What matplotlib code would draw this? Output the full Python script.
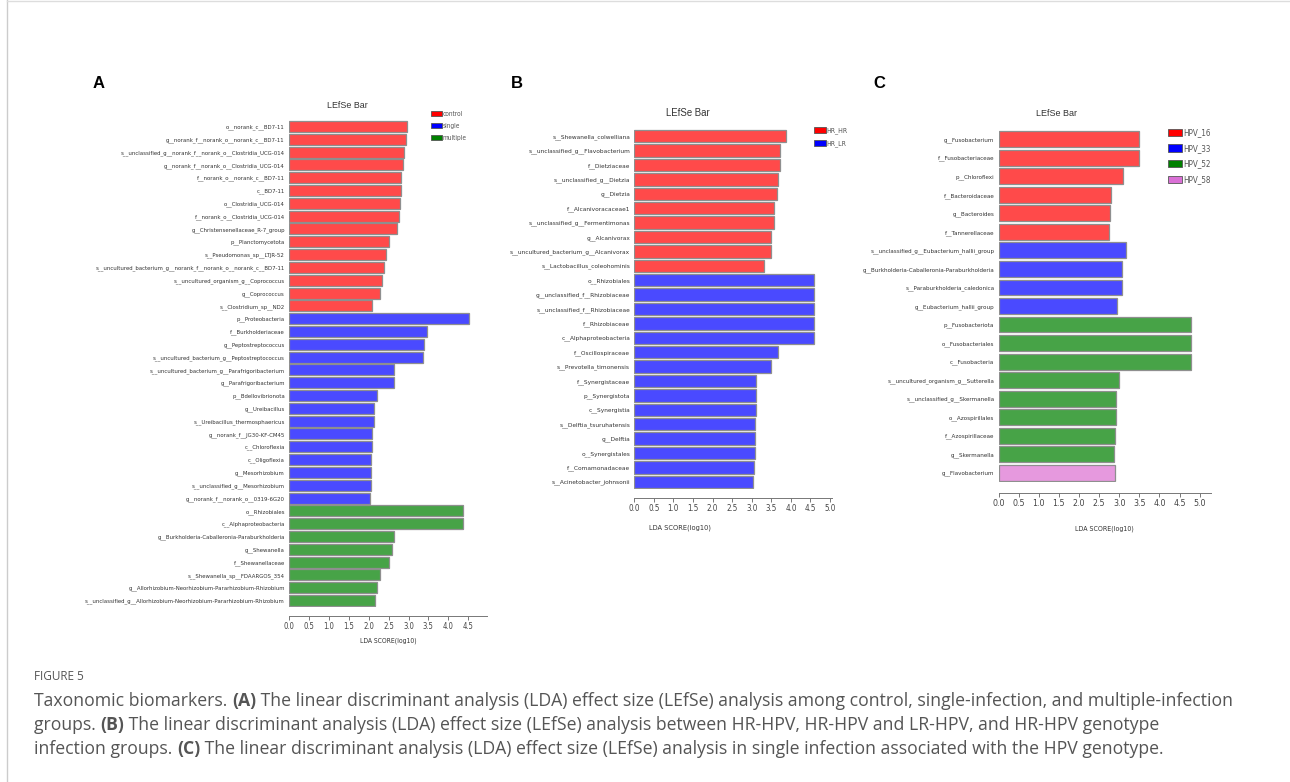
import numpy as np
import matplotlib
matplotlib.use("Agg")
import matplotlib.pyplot as plt
from matplotlib.patches import Patch
from matplotlib.lines import Line2D
from matplotlib import font_manager as fm

W, H = 1290, 782

# ---------------- data ----------------
a_labels = [
    "o__norank_c__BD7-11", "g__norank_f__norank_o__norank_c__BD7-11",
    "s__unclassified_g__norank_f__norank_o__Clostridia_UCG-014",
    "g__norank_f__norank_o__Clostridia_UCG-014", "f__norank_o__norank_c__BD7-11",
    "c__BD7-11", "o__Clostridia_UCG-014", "f__norank_o__Clostridia_UCG-014",
    "g__Christensenellaceae_R-7_group", "p__Planctomycetota", "s__Pseudomonas_sp__LTJR-52",
    "s__uncultured_bacterium_g__norank_f__norank_o__norank_c__BD7-11",
    "s__uncultured_organism_g__Coprococcus", "g__Coprococcus", "s__Clostridium_sp__ND2",
    "p__Proteobacteria", "f__Burkholderiaceae", "g__Peptostreptococcus",
    "s__uncultured_bacterium_g__Peptostreptococcus",
    "s__uncultured_bacterium_g__Parafrigoribacterium", "g__Parafrigoribacterium",
    "p__Bdellovibrionota", "g__Ureibacillus", "s__Ureibacillus_thermosphaericus",
    "g__norank_f__JG30-KF-CM45", "c__Chloroflexia", "c__Oligoflexia", "g__Mesorhizobium",
    "s__unclassified_g__Mesorhizobium", "g__norank_f__norank_o__0319-6G20",
    "o__Rhizobiales", "c__Alphaproteobacteria",
    "g__Burkholderia-Caballeronia-Paraburkholderia", "g__Shewanella", "f__Shewanellaceae",
    "s__Shewanella_sp__FDAARGOS_354",
    "g__Allorhizobium-Neorhizobium-Pararhizobium-Rhizobium",
    "s__unclassified_g__Allorhizobium-Neorhizobium-Pararhizobium-Rhizobium",
]
a_values = [2.96, 2.93, 2.88, 2.86, 2.82, 2.81, 2.78, 2.75, 2.70, 2.50, 2.44, 2.39, 2.34, 2.29, 2.09,
            4.52, 3.47, 3.38, 3.36, 2.64, 2.63, 2.21, 2.14, 2.14, 2.09, 2.08, 2.07, 2.06, 2.05, 2.03,
            4.36, 4.36, 2.64, 2.58, 2.50, 2.28, 2.20, 2.17]
a_groups = ["control"] * 15 + ["single"] * 15 + ["multiple"] * 8
a_legend = ["control", "single", "multiple"]

b_labels = [
    "s__Shewanella_colwelliana", "s__unclassified_g__Flavobacterium", "f__Dietziaceae",
    "s__unclassified_g__Dietzia", "g__Dietzia", "f__Alcanivoracaceae1",
    "s__unclassified_g__Fermentimonas", "g__Alcanivorax", "s__uncultured_bacterium_g__Alcanivorax",
    "s__Lactobacillus_coleohominis",
    "o__Rhizobiales", "g__unclassified_f__Rhizobiaceae", "s__unclassified_f__Rhizobiaceae",
    "f__Rhizobiaceae", "c__Alphaproteobacteria", "f__Oscillospiraceae",
    "s__Prevotella_timonensis", "f__Synergistaceae", "p__Synergistota", "c__Synergistia",
    "s__Delftia_tsuruhatensis", "g__Delftia", "o__Synergistales", "f__Comamonadaceae",
    "s__Acinetobacter_johnsonii",
]
b_values = [3.88, 3.73, 3.71, 3.68, 3.64, 3.57, 3.56, 3.49, 3.48, 3.32,
            4.59, 4.59, 4.59, 4.59, 4.59, 3.67, 3.49, 3.12, 3.12, 3.12, 3.09, 3.09, 3.08, 3.07, 3.03]
b_groups = ["HR_HR"] * 10 + ["HR_LR"] * 15
b_legend = ["HR_HR", "HR_LR"]

c_labels = [
    "g__Fusobacterium", "f__Fusobacteriaceae", "p__Chloroflexi", "f__Bacteroidaceae",
    "g__Bacteroides", "f__Tannerellaceae",
    "s__unclassified_g__Eubacterium_hallii_group", "g__Burkholderia-Caballeronia-Paraburkholderia",
    "s__Paraburkholderia_caledonica", "g__Eubacterium_hallii_group",
    "p__Fusobacteriota", "o__Fusobacteriales", "c__Fusobacteria",
    "s__uncultured_organism_g__Sutterella", "s__unclassified_g__Skermanella",
    "o__Azospirillales", "f__Azospirillaceae", "g__Skermanella",
    "g__Flavobacterium",
]
c_values = [3.49, 3.48, 3.09, 2.79, 2.78, 2.74,
            3.16, 3.07, 3.06, 2.94,
            4.78, 4.78, 4.78, 2.99, 2.93, 2.93, 2.89, 2.86,
            2.90]
c_groups = ["HPV_16"] * 6 + ["HPV_33"] * 4 + ["HPV_52"] * 8 + ["HPV_58"]
c_legend = ["HPV_16", "HPV_33", "HPV_52", "HPV_58"]

# ---------------- style ----------------
bar_colors = ["#FF4A4A", "#4A4AFF", "#47A347", "#E699DE"]
leg_colors = ["#FF0000", "#0000FF", "#008000", "#DA70D6"]

_cond = fm.findfont(fm.FontProperties(family="DejaVu Sans", stretch="condensed"),
                    fallback_to_default=True)
if "ondensed" in _cond:
    NARROW = {"fname": _cond}
    SCALE = 1.0
    NFAM = None
else:
    NARROW = None
    SCALE = 0.83
    NFAM = ["Liberation Sans", "DejaVu Sans"]
ARIAL = ["Liberation Sans", "DejaVu Sans"]
CAPF = ["Open Sans", "DejaVu Sans"]


def nprops(size, weight="normal"):
    if NARROW is not None:
        return fm.FontProperties(fname=NARROW["fname"], size=size * 1.15, weight=weight)
    return fm.FontProperties(family=NFAM, size=size * SCALE, weight=weight)


fig = plt.figure(figsize=(W / 100, H / 100), dpi=100)
fig.patch.set_facecolor("white")


def fx(x):
    return x / W


def fy(y):
    return 1 - y / H


def panel(labels, values, groups, legend_names, box, xmax, xticks, lab_fs, tick_fs,
          title_xy, title_fs, xlabel_xy, xlabel_fs, leg_xy, leg_fs, leg_hl, leg_hh, leg_sp,
          letter, letter_xy, offset):
    x0, y0, x1, y1 = box
    ax = fig.add_axes([fx(x0), fy(y1), fx(x1 - x0), (y1 - y0) / H])
    for s in ["left", "right", "top"]:
        ax.spines[s].set_visible(False)
    ax.spines["bottom"].set_position(("outward", offset))
    ax.spines["bottom"].set_color("#777777")
    ax.spines["bottom"].set_linewidth(0.7)
    n = len(labels)
    cmap = {g: bar_colors[i] for i, g in enumerate(legend_names)}
    cols = [cmap[g] for g in groups]
    ypos = np.arange(n)
    ax.barh(ypos, values, height=0.86, color=cols, edgecolor="#8f8f8f", linewidth=0.9)
    ax.set_ylim(n - 0.5, -0.5)
    ax.set_xlim(0, xmax)
    ax.set_yticks(ypos)
    ax.set_yticklabels(labels, fontproperties=nprops(lab_fs), color="#333333")
    ax.tick_params(axis="y", length=0, pad=3)
    ax.set_xticks(xticks)
    ax.set_xticklabels(["%.1f" % t for t in xticks], fontproperties=nprops(tick_fs),
                       color="#444444")
    ax.tick_params(axis="x", length=3, width=0.7, color="#777777", pad=1.5)
    ax.set_facecolor("none")
    fig.text(fx(title_xy[0]), fy(title_xy[1]), "LEfSe Bar", family=ARIAL, fontsize=title_fs,
             color="#333333", ha="center", va="center")
    fig.text(fx(xlabel_xy[0]), fy(xlabel_xy[1]), "LDA SCORE(log10)",
             fontproperties=nprops(xlabel_fs, "bold"), color="#333333", ha="center",
             va="center")
    handles = [Patch(facecolor=leg_colors[i], edgecolor="#555555", linewidth=0.6)
               for i in range(len(legend_names))]
    ax.legend(handles, legend_names, loc="upper left",
              bbox_to_anchor=(fx(leg_xy[0]), fy(leg_xy[1])), bbox_transform=fig.transFigure,
              frameon=False, handlelength=leg_hl, handleheight=leg_hh,
              handletextpad=0.05, labelspacing=leg_sp, borderpad=0, borderaxespad=0,
              prop=nprops(leg_fs), labelcolor="#555555")
    fig.text(fx(letter_xy[0]), fy(letter_xy[1]), letter, family=ARIAL, fontsize=12,
             fontweight="bold", color="black", ha="center", va="center")
    return ax


panel(a_labels, a_values, a_groups, a_legend, (289, 120, 487, 607), 4.97,
      np.arange(0, 4.51, 0.5), 3.75, 4.8, (347, 105), 6.4, (388, 641), 4.2,
      (431, 111), 4.1, 1.7, 0.9, 0.9, "A", (99, 83), 6.5)

panel(b_labels, b_values, b_groups, b_legend, (634.3, 129, 832, 489), 5.05,
      np.arange(0, 5.01, 0.5), 4.05, 5.0, (688, 113), 6.9, (680, 528), 4.6,
      (814, 127), 4.3, 1.7, 0.9, 0.85, "B", (517, 83), 6.5)

panel(c_labels, c_values, c_groups, c_legend, (998.5, 130, 1211, 482), 5.28,
      np.arange(0, 5.01, 0.5), 3.95, 5.5, (1057, 113), 6.5, (1104, 529), 4.4,
      (1168, 128), 5.0, 1.8, 1.0, 0.85, "C", (879, 83), 8.0)

# frame lines
fig.add_artist(Line2D([fx(7), fx(7)], [0, 1], color="#cccccc", linewidth=1.0))
fig.add_artist(Line2D([fx(7), 1], [fy(1), fy(1)], color="#dddddd", linewidth=1.0))

# caption
renderer = fig.canvas.get_renderer()
CAP_X = 34
cap_title = fig.text(fx(CAP_X), fy(677), "FIGURE 5", family=CAPF, fontsize=8.5,
                     color="#555555", ha="left", va="center")
lines = [
    [("Taxonomic biomarkers. ", "normal"), ("(A)", "bold"),
     (" The linear discriminant analysis (LDA) effect size (LEfSe) analysis among control, single-infection, and multiple-infection", "normal")],
    [("groups. ", "normal"), ("(B)", "bold"),
     (" The linear discriminant analysis (LDA) effect size (LEfSe) analysis between HR-HPV, HR-HPV and LR-HPV, and HR-HPV genotype", "normal")],
    [("infection groups. ", "normal"), ("(C)", "bold"),
     (" The linear discriminant analysis (LDA) effect size (LEfSe) analysis in single infection associated with the HPV genotype.", "normal")],
]

# choose caption size so that the first line spans about 1200 px
probe = fig.text(0, 0, "".join(s for s, _ in lines[0]), family=CAPF, fontsize=10)
pw = probe.get_window_extent(renderer=renderer).width
probe.remove()
cap_fs = 10 * 1198 / pw

for i, segs in enumerate(lines):
    xpix = CAP_X
    ypix = 701 + 24 * i
    for txt, wt in segs:
        t = fig.text(fx(xpix), fy(ypix), txt, family=CAPF, fontsize=cap_fs, color="#555555",
                     ha="left", va="center", fontweight=wt)
        bb = t.get_window_extent(renderer=renderer)
        xpix += bb.width

fig.savefig("out.png", dpi=100, facecolor="white")
